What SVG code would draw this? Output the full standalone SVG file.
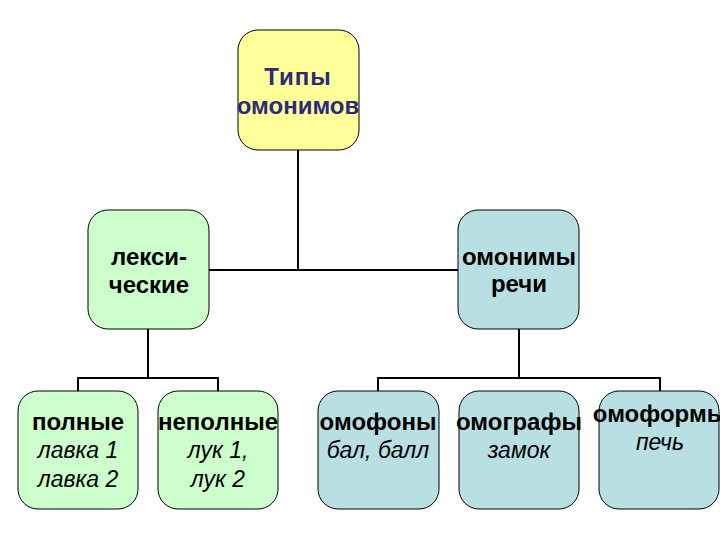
<svg xmlns="http://www.w3.org/2000/svg" width="720" height="540" viewBox="0 0 720 540">
<style>
.box{stroke:#000;stroke-width:1}
.y{fill:#ffff99}
.g{fill:#ccffcc}
.b{fill:#b8dfe2}
text{font-family:"Liberation Sans",Arial,sans-serif;font-size:23px;text-anchor:middle;fill:#000}
.h{font-weight:bold;font-size:24px}
.top{fill:#2a2a7e}
.i{font-style:italic}
.c{fill:none;stroke:#000;stroke-width:2}
</style>
<rect width="720" height="540" fill="#fff"/>
<g id="connectors">
<path class="c" d="M298 150V270M209 270H458"/>
<path class="c" d="M148 329V378M78 391V378H218V391"/>
<path class="c" d="M519 329V378M378 391V378H660V391"/>
</g>
<g id="n-top">
<rect class="box y" x="238" y="30" width="121" height="120" rx="20"/>
<text class="h top" x="298" y="85" letter-spacing="1">Типы</text>
<text class="h top" x="298" y="114">омонимов</text>
</g>
<g id="n-lex">
<rect class="box g" x="88" y="210" width="121" height="119" rx="20"/>
<text class="h" x="149" y="265">лекси-</text>
<text class="h" x="149" y="293">ческие</text>
</g>
<g id="n-speech">
<rect class="box b" x="458" y="210" width="121" height="119" rx="20"/>
<text class="h" x="519" y="265">омонимы</text>
<text class="h" x="519" y="292">речи</text>
</g>
<g id="n-full">
<rect class="box g" x="18" y="391" width="120" height="118" rx="20"/>
<text class="h" x="78" y="430">полные</text>
<text class="i" x="78" y="458">лавка 1</text>
<text class="i" x="78" y="487">лавка 2</text>
</g>
<g id="n-partial">
<rect class="box g" x="158" y="391" width="120" height="118" rx="20"/>
<text class="h" x="218" y="430">неполные</text>
<text class="i" x="218" y="458">лук 1,</text>
<text class="i" x="218" y="487">лук 2</text>
</g>
<g id="n-homophones">
<rect class="box b" x="318" y="391" width="121" height="118" rx="20"/>
<text class="h" x="378" y="430">омофоны</text>
<text class="i" x="378" y="458">бал, балл</text>
</g>
<g id="n-homographs">
<rect class="box b" x="459" y="391" width="120" height="118" rx="20"/>
<text class="h" x="519" y="430">омографы</text>
<text class="i" x="519" y="458">замок</text>
</g>
<g id="n-homoforms">
<rect class="box b" x="599" y="391" width="120" height="118" rx="20"/>
<text class="h" x="660" y="422">омоформы</text>
<text class="i" x="660" y="450">печь</text>
</g>
</svg>
